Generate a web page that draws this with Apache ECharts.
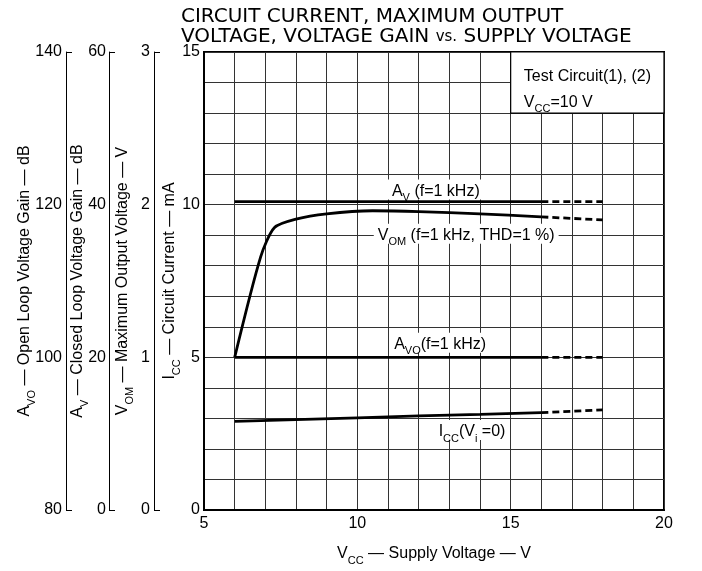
<!DOCTYPE html>
<html>
<head>
<meta charset="utf-8">
<script src="https://cdn.jsdelivr.net/npm/echarts@6/dist/echarts.min.js"></script>
<style>
html, body { margin: 0; padding: 0; background: #fff; }
#main { width: 702px; height: 571px; }
</style>
</head>
<body>
<div id="main"></div>
<script>
// values, supply voltage in V
var avVcc = [6, 16];
var avGain = [40.4, 40.4];
var avDashVcc = [16, 18];
var avDashGain = [40.4, 40.4];

var avoVcc = [6, 16];
var avoGain = [100, 100];
var avoDashVcc = [16, 18];
var avoDashGain = [100, 100];

var vomVcc = [6, 6.85, 7.3, 8, 9, 10.5, 12, 14, 16];
var vomVolt = [1.0, 1.66, 1.85, 1.905, 1.94, 1.96, 1.955, 1.94, 1.92];
var vomDashVcc = [16, 18];
var vomDashVolt = [1.92, 1.90];

var iccVcc = [6, 8, 10, 12, 14, 16];
var iccMa = [2.90, 2.96, 3.02, 3.08, 3.13, 3.19];
var iccDashVcc = [16, 18];
var iccDashMa = [3.19, 3.28];

var vccLabels = [5, 10, 15, 20];
var iccLabels = [0, 5, 10, 15];

var FONT = "'Liberation Sans', sans-serif";

var rich = {
    n: { fontFamily: FONT, fontSize: 16, color: '#000', verticalAlign: 'bottom', lineHeight: 20 },
    s: { fontFamily: FONT, fontSize: 11, color: '#000', verticalAlign: 'bottom', lineHeight: 20, padding: [0, 0, -4, 0] }
};

function zip(xs, ys) {
    return xs.map(function (x, i) { return [x, ys[i]]; });
}

function curve(xs, ys, axis, dashed, smooth) {
    return {
        type: 'line',
        yAxisIndex: axis,
        data: zip(xs, ys),
        symbol: 'none',
        smooth: smooth ? 0.25 : false,
        silent: true,
        z: 5,
        lineStyle: { color: '#000', width: 2.8, type: dashed ? [7, 4] : 'solid' }
    };
}

function sideAxis(min, max, offset, nameGap, name, margin) {
    return {
        type: 'value',
        position: 'left',
        min: min,
        max: max,
        interval: (max - min) / 3,
        offset: offset,
        name: name,
        nameLocation: 'middle',
        nameGap: nameGap,
        nameRotate: 90,
        nameMoveOverlap: false,
        nameTextStyle: { rich: rich },
        axisLine: { show: true, onZero: false, lineStyle: { color: '#000', width: 1 } },
        axisTick: { show: true, inside: true, length: 6, customValues: [min, max], lineStyle: { color: '#000' } },
        axisLabel: { color: '#000', fontFamily: FONT, fontSize: 16, margin: margin },
        splitLine: { show: false }
    };
}

var chart = echarts.init(document.getElementById('main'));

var option = {
    backgroundColor: '#fff',
    animation: false,
    title: {
        left: 176,
        top: 2,
        text: '{t|CIRCUIT CURRENT, MAXIMUM OUTPUT}\n{t|VOLTAGE, VOLTAGE GAIN }{v|vs.}{t| SUPPLY VOLTAGE}',
        textStyle: {
            rich: {
                t: { fontFamily: "'DejaVu Sans', sans-serif", fontSize: 20, fontWeight: 'normal', color: '#000', lineHeight: 20 },
                v: { fontFamily: "'DejaVu Sans', sans-serif", fontSize: 15, fontWeight: 'normal', color: '#000', lineHeight: 20 }
            }
        }
    },
    grid: {
        left: 204, right: 38, top: 52, bottom: 61,
        show: true, borderColor: '#000', borderWidth: 2
    },
    xAxis: {
        type: 'value',
        min: 5, max: 20, interval: 1,
        name: '{n|V}{s|CC}{n| — Supply Voltage — V}',
        nameLocation: 'middle',
        nameGap: 32,
        nameMoveOverlap: false,
        nameTextStyle: { rich: rich },
        axisLine: { onZero: false, lineStyle: { color: '#000', width: 2 } },
        axisTick: { show: false },
        axisLabel: {
            color: '#000', fontFamily: FONT, fontSize: 16, margin: 6,
            formatter: function (v) { return vccLabels.indexOf(v) >= 0 ? String(v) : ''; }
        },
        splitLine: { show: true, lineStyle: { color: '#333', width: 1 } }
    },
    yAxis: [
        {
            type: 'value',
            position: 'left',
            min: 0, max: 15, interval: 1,
            name: '{n|I}{s|CC}{n| — Circuit Current — mA}',
            nameLocation: 'middle',
            nameGap: 26,
            nameRotate: 90,
            nameMoveOverlap: false,
            nameTextStyle: { rich: rich },
            axisLine: { show: true, onZero: false, lineStyle: { color: '#000', width: 2 } },
            axisTick: { show: false },
            axisLabel: {
                color: '#000', fontFamily: FONT, fontSize: 16, margin: 4,
                formatter: function (v) { return iccLabels.indexOf(v) >= 0 ? String(v) : ''; }
            },
            splitLine: { show: true, lineStyle: { color: '#333', width: 1 } }
        },
        sideAxis(0, 3, 50, 23, '{n|V}{s|OM}{n| — Maximum Output Voltage — V}', 4),
        sideAxis(0, 60, 95, 23, '{n|A}{s|V}{n| — Closed Loop Voltage Gain — dB}', 3),
        sideAxis(80, 140, 138, 33, '{n|A}{s|VO}{n| — Open Loop Voltage Gain — dB}', 4)
    ],
    series: [
        curve(avVcc, avGain, 2, false),
        curve(avDashVcc, avDashGain, 2, true),
        curve(avoVcc, avoGain, 3, false),
        curve(avoDashVcc, avoDashGain, 3, true),
        curve(vomVcc, vomVolt, 1, false, true),
        curve(vomDashVcc, vomDashVolt, 1, true),
        Object.assign(curve(iccVcc, iccMa, 0, false), {
            markArea: {
                silent: true,
                itemStyle: { color: '#fff', borderColor: '#000', borderWidth: 1.2 },
                label: { show: false },
                data: [[{ coord: [15, 13] }, { coord: [20, 15] }]]
            }
        }),
        curve(iccDashVcc, iccDashMa, 0, true)
    ]
};

chart.setOption(option);

// curve captions, placed in ICC grid units
var captions = [
    { at: [12.56, 10.5], text: '{n|A}{s|V}{n| (f=1 kHz)}', align: 'center' },
    { at: [13.55, 9.05], text: '{n|V}{s|OM}{n| (f=1 kHz, THD=1 %)}', align: 'center' },
    { at: [12.7, 5.48], text: '{n|A}{s|VO}{n|(f=1 kHz)}', align: 'center' },
    { at: [13.74, 2.62], text: '{n|I}{s|CC}{n|(V}{s|i}{n| =0)}', align: 'center' },
    { at: [15.3, 14.25], text: '{n|Test Circuit(1), (2)}', align: 'left', bg: 'transparent' },
    { at: [15.3, 13.4], text: '{n|V}{s|CC}{n|=10 V}', align: 'left', bg: 'transparent' }
];

chart.setOption({
    graphic: captions.map(function (c) {
        var p = chart.convertToPixel({ xAxisIndex: 0, yAxisIndex: 0 }, c.at);
        return {
            type: 'text',
            x: p[0], y: p[1],
            z: 10,
            style: {
                text: c.text,
                rich: rich,
                align: c.align,
                verticalAlign: 'middle',
                backgroundColor: c.bg || '#fff',
                padding: [0, 4]
            }
        };
    })
});
</script>
</body>
</html>
